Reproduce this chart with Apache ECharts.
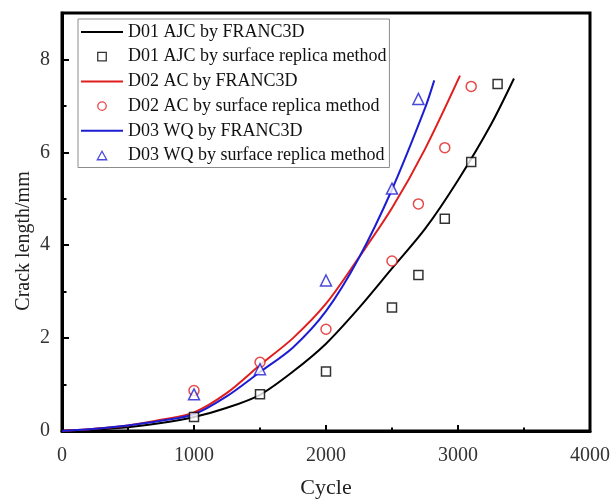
<!DOCTYPE html>
<html>
<head>
<meta charset="utf-8">
<script src="https://cdn.jsdelivr.net/npm/echarts@6/dist/echarts.min.js"></script>
<style>
  html, body { margin: 0; padding: 0; background: #fff; }
  #chart { width: 613px; height: 504px; }
</style>
</head>
<body>
<div id="chart"></div>
<script>
// FRANC3D simulated crack growth curves (cycle, crack length in mm)
const d01SimCycles = [0, 250, 500, 750, 1000, 1250, 1500, 1750, 2000, 2250, 2500, 2750, 3000, 3250, 3424];
const d01SimLength = [0, 0.03, 0.08, 0.17, 0.30, 0.50, 0.78, 1.28, 1.88, 2.65, 3.50, 4.35, 5.40, 6.60, 7.59];
const d02SimCycles = [0, 250, 500, 750, 1000, 1250, 1500, 1750, 2000, 2250, 2500, 2750, 3015];
const d02SimLength = [0, 0.05, 0.12, 0.24, 0.40, 0.82, 1.42, 2.00, 2.74, 3.74, 4.80, 6.07, 7.65];
const d03SimCycles = [0, 250, 500, 750, 1000, 1250, 1500, 1750, 2000, 2250, 2500, 2750, 2820];
const d03SimLength = [0, 0.05, 0.12, 0.22, 0.36, 0.75, 1.27, 1.80, 2.58, 3.73, 5.20, 6.95, 7.55];

// Surface replica measurements
const d01RepCycles = [1000, 1500, 2000, 2500, 2700, 2900, 3100, 3300];
const d01RepLength = [0.30, 0.79, 1.28, 2.66, 3.36, 4.57, 5.79, 7.47];
const d02RepCycles = [1000, 1500, 2000, 2500, 2700, 2900, 3100];
const d02RepLength = [0.87, 1.48, 2.19, 3.66, 4.89, 6.10, 7.42];
const d03RepCycles = [1000, 1500, 2000, 2500, 2700];
const d03RepLength = [0.79, 1.33, 3.24, 5.22, 7.15];

const seriesNames = [
  'D01 AJC by FRANC3D',
  'D01 AJC by surface replica method',
  'D02 AC by FRANC3D',
  'D02 AC by surface replica method',
  'D03 WQ by FRANC3D',
  'D03 WQ by surface replica method'
];
const yMajorTicks = [0, 2, 4, 6, 8];
const yMinorTicks = [1, 3, 5, 7];

const zip = (xs, ys) => xs.map((x, i) => [x, ys[i]]);

const BLACK = '#000000';
const RED = '#e01e1e';
const BLUE = '#1c1cd2';
const FONT = 'Liberation Serif';

// legend icons (kept at their own aspect ratio)
const LINE_ICON = 'path://M0,0H42V2H0Z';
const SQUARE_ICON = 'path://M0,0H10V10H0Z';
const TRIANGLE_ICON = 'path://M5,0L10,9L0,9Z';
const legendIcons = [LINE_ICON, SQUARE_ICON, LINE_ICON, 'circle', LINE_ICON, TRIANGLE_ICON];

function curve(name, xs, ys, color) {
  return {
    name, type: 'line', data: zip(xs, ys),
    smooth: 0.3,
    symbol: 'none', showSymbol: false,
    lineStyle: { color, width: 2 },
    itemStyle: { color },
    z: 2
  };
}
function points(name, xs, ys, color, symbol, size) {
  return {
    name, type: 'scatter', data: zip(xs, ys),
    symbol, symbolSize: size,
    itemStyle: { color: '#ffffff', borderColor: color, borderWidth: 1.5 },
    z: 3
  };
}

const legendData = seriesNames.map((name, i) => ({
  name,
  icon: legendIcons[i],
  symbolKeepAspect: true,
  itemStyle: { borderWidth: i % 2 === 0 ? 0 : 1.3 }
}));

const chart = echarts.init(document.getElementById('chart'), null, { renderer: 'canvas' });

chart.setOption({
  animation: false,
  backgroundColor: '#ffffff',
  textStyle: { fontFamily: FONT },
  grid: {
    left: 62, right: 23, top: 13, bottom: 69,
    show: true, borderColor: BLACK, borderWidth: 3, backgroundColor: 'transparent'
  },
  legend: {
    orient: 'vertical',
    left: 78, top: 19,
    padding: [4, 3, 3, 3],
    itemWidth: 42, itemHeight: 8.5, itemGap: 6.7,
    backgroundColor: '#ffffff',
    borderColor: '#8c8c8c', borderWidth: 1,
    symbolKeepAspect: true,
    textStyle: { fontFamily: FONT, fontSize: 18, color: '#111', lineHeight: 18 },
    data: legendData
  },
  xAxis: {
    type: 'value', min: 0, max: 4000, interval: 1000,
    name: 'Cycle', nameLocation: 'middle', nameGap: 46, nameMoveOverlap: false,
    nameTextStyle: { fontFamily: FONT, fontSize: 22, color: '#222' },
    axisLine: { show: true, onZero: false, lineStyle: { color: BLACK, width: 3 } },
    axisTick: { show: true, inside: true, length: 6, lineStyle: { color: BLACK, width: 2 } },
    minorTick: { show: true, splitNumber: 2, length: 3.5, lineStyle: { color: BLACK, width: 2 } },
    splitLine: { show: false },
    axisLabel: { margin: 15, fontFamily: FONT, fontSize: 20, color: '#333', formatter: v => String(v) }
  },
  yAxis: [
    {
      type: 'value', min: 0, max: 9,
      name: 'Crack length/mm', nameLocation: 'middle', nameGap: 28, nameRotate: 90, nameMoveOverlap: false,
      nameTextStyle: { fontFamily: FONT, fontSize: 20, color: '#222', padding: [0, 38, 0, 0] },
      axisLine: { show: true, onZero: false, lineStyle: { color: BLACK, width: 3 } },
      axisTick: { show: true, inside: true, length: 7, customValues: yMajorTicks, lineStyle: { color: BLACK, width: 2 } },
      splitLine: { show: false },
      axisLabel: { margin: 12, fontFamily: FONT, fontSize: 20, color: '#333', customValues: yMajorTicks }
    },
    {
      type: 'value', min: 0, max: 9, position: 'left',
      axisLine: { show: false },
      axisTick: { show: true, inside: true, length: 4.5, customValues: yMinorTicks, lineStyle: { color: BLACK, width: 2 } },
      axisLabel: { show: false },
      splitLine: { show: false }
    }
  ],
  series: [
    curve(seriesNames[0], d01SimCycles, d01SimLength, BLACK),
    points(seriesNames[1], d01RepCycles, d01RepLength, BLACK, 'rect', 9),
    curve(seriesNames[2], d02SimCycles, d02SimLength, RED),
    points(seriesNames[3], d02RepCycles, d02RepLength, RED, 'circle', 10),
    curve(seriesNames[4], d03SimCycles, d03SimLength, BLUE),
    points(seriesNames[5], d03RepCycles, d03RepLength, BLUE, 'triangle', 11)
  ]
});
</script>
</body>
</html>
